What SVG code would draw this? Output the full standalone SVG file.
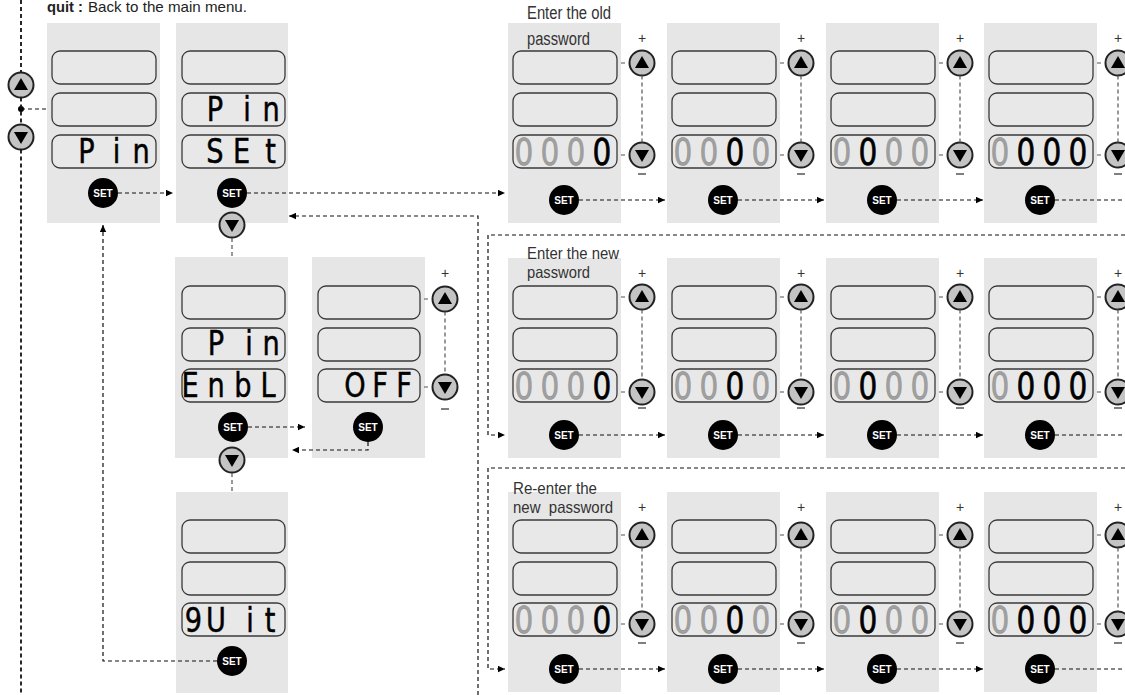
<svg xmlns="http://www.w3.org/2000/svg" width="1125" height="695" viewBox="0 0 1125 695">
<style>
.panel{fill:#e6e6e6}
.disp{fill:#e8e8e8;stroke:#3a3a3a;stroke-width:1.3}
.btn{fill:#c4c4c4;stroke:#222;stroke-width:2}
.tri{fill:#000}
.set{fill:#000}
.setlbl{fill:#fff;font-family:"Liberation Sans",Arial,sans-serif;font-weight:bold;font-size:10px;text-anchor:middle}
.seg{font-family:"DejaVu Sans","Liberation Sans",sans-serif;text-anchor:middle}
.dig{font-size:37px}
.let{font-size:34px;fill:#000;stroke:#000;stroke-width:0.5}
.g{fill:#a0a0a0;stroke:#8a8a8a;stroke-width:0.5}
.k{fill:#000;stroke:#000;stroke-width:0.7}
.lbl{font-family:"Liberation Sans",Arial,sans-serif;font-size:16.5px;fill:#333;white-space:pre}
.big{font-size:18px}
.note{font-family:"Liberation Sans",Arial,sans-serif;font-size:15px;fill:#222}
.plus{font-family:"Liberation Sans",Arial,sans-serif;font-size:14px;fill:#333;text-anchor:middle}
.minus{stroke:#555;stroke-width:1.5}
.conn{fill:none;stroke:#111;stroke-width:1.2;stroke-dasharray:4 3}
.main{fill:none;stroke:#111;stroke-width:1.8;stroke-dasharray:4 3}
.vconn{fill:none;stroke:#555;stroke-width:1.2;stroke-dasharray:4 3}
.tick{fill:none;stroke:#555;stroke-width:1.2}
</style>
<defs>
<marker id="ah" viewBox="0 0 7 7" refX="7" refY="3.5" markerWidth="7" markerHeight="7" markerUnits="userSpaceOnUse" orient="auto">
<path d="M0,0.3 L7,3.5 L0,6.7 z" fill="#000"/>
</marker>
</defs>

<g id="caption">
<text class="note" x="47" y="12" font-weight="bold" textLength="36" lengthAdjust="spacingAndGlyphs">quit :</text>
<text class="note" x="88" y="12" textLength="159" lengthAdjust="spacingAndGlyphs">Back to the main menu.</text>
</g>

<g id="nav-buttons">
<circle class="btn" cx="21" cy="85" r="12.5"/><path class="tri" d="M21,78 l7,12 h-14 z"/>
<circle class="btn" cx="21" cy="137" r="12.5"/><path class="tri" d="M21,144 l7,-12 h-14 z"/>
<circle cx="21" cy="109" r="3" fill="#000"/>
</g>

<g id="menu-pin">
<rect class="panel" x="47" y="23" width="113" height="200"/>
<rect class="disp" x="52" y="51" width="104" height="33" rx="8"/>
<rect class="disp" x="52" y="93" width="104" height="33" rx="8"/>
<rect class="disp" x="52" y="135" width="104" height="33" rx="8"/>
<text class="seg let" transform="scale(0.8 1)" x="108.1 145.6 176.25" y="163">Pin</text>
<circle class="set" cx="103" cy="193" r="15"/><text class="setlbl" x="103" y="196.5">SET</text>
</g>

<g id="pin-set">
<rect class="panel" x="176" y="23" width="112" height="200"/>
<rect class="disp" x="182" y="51" width="103" height="33" rx="8"/>
<rect class="disp" x="182" y="93" width="103" height="33" rx="8"/>
<rect class="disp" x="182" y="135" width="103" height="33" rx="8"/>
<text class="seg let" transform="scale(0.8 1)" x="268.75 308.75 338.75" y="121">Pin</text>
<text class="seg let" transform="scale(0.8 1)" x="268.75 301.9 338.1" y="163">SEt</text>
<circle class="set" cx="232" cy="193" r="15"/><text class="setlbl" x="232" y="196.5">SET</text>
<circle class="btn" cx="232" cy="225" r="12.5"/><path class="tri" d="M232,232 l7,-12 h-14 z"/>
</g>

<g id="pin-enbl">
<rect class="panel" x="175" y="257" width="113" height="201"/>
<rect class="disp" x="182" y="286" width="103" height="33" rx="8"/>
<rect class="disp" x="182" y="328" width="103" height="33" rx="8"/>
<rect class="disp" x="182" y="369" width="103" height="33" rx="8"/>
<text class="seg let" transform="scale(0.8 1)" x="270 311.25 338.75" y="355">Pin</text>
<text class="seg let" transform="scale(0.8 1)" x="237.5 270 303.75 335" y="397">EnbL</text>
<circle class="set" cx="233" cy="427" r="15"/><text class="setlbl" x="233" y="430.5">SET</text>
<circle class="btn" cx="232" cy="460" r="12.5"/><path class="tri" d="M232,467 l7,-12 h-14 z"/>
</g>

<g id="pin-off">
<rect class="panel" x="312" y="257" width="113" height="201"/>
<rect class="disp" x="318" y="286" width="102" height="33" rx="8"/>
<rect class="disp" x="318" y="328" width="102" height="33" rx="8"/>
<rect class="disp" x="318" y="369" width="102" height="33" rx="8"/>
<text class="seg let" transform="scale(0.8 1)" x="443.75 475 505" y="397">OFF</text>
<circle class="set" cx="368" cy="427" r="15"/><text class="setlbl" x="368" y="430.5">SET</text>
<text class="plus" x="445" y="278">+</text>
<circle class="btn" cx="445" cy="299" r="12.5"/><path class="tri" d="M445,292 l7,12 h-14 z"/>
<circle class="btn" cx="445" cy="387" r="12.5"/><path class="tri" d="M445,394 l7,-12 h-14 z"/>
<line class="minus" x1="441" y1="409" x2="449" y2="409"/>
</g>

<g id="pin-quit">
<rect class="panel" x="176" y="492" width="112" height="201"/>
<rect class="disp" x="182" y="520" width="103" height="33" rx="8"/>
<rect class="disp" x="182" y="562" width="103" height="33" rx="8"/>
<rect class="disp" x="182" y="603" width="103" height="33" rx="8"/>
<text class="seg let" transform="scale(0.8 1)" x="241.9 270 312.5 337.5" y="632">9Uit</text>
<circle class="set" cx="232" cy="661" r="15"/><text class="setlbl" x="232" y="664.5">SET</text>
</g>

<g id="old-1">
<rect class="panel" x="508" y="23" width="113" height="200"/>
<rect class="disp" x="513" y="51" width="104" height="33" rx="8"/>
<rect class="disp" x="513" y="93" width="104" height="33" rx="8"/>
<rect class="disp" x="513" y="135" width="104" height="33" rx="8"/>
<text class="seg dig" transform="scale(0.8 1)" x="655 687.5 720 752.5" y="165"><tspan class="g">000</tspan><tspan class="k">0</tspan></text>
<circle class="set" cx="564" cy="200" r="15"/><text class="setlbl" x="564" y="203.5">SET</text>
<text class="plus" x="642" y="43">+</text>
<circle class="btn" cx="642" cy="63" r="12.5"/><path class="tri" d="M642,56 l7,12 h-14 z"/>
<circle class="btn" cx="642" cy="155" r="12.5"/><path class="tri" d="M642,162 l7,-12 h-14 z"/>
<line class="minus" x1="638" y1="174" x2="646" y2="174"/>
<text class="lbl big" x="527" y="19" textLength="84" lengthAdjust="spacingAndGlyphs">Enter the old</text>
<text class="lbl big" x="527" y="45" textLength="63" lengthAdjust="spacingAndGlyphs">password</text>
</g>

<g id="old-2">
<rect class="panel" x="667" y="23" width="113" height="200"/>
<rect class="disp" x="672" y="51" width="104" height="33" rx="8"/>
<rect class="disp" x="672" y="93" width="104" height="33" rx="8"/>
<rect class="disp" x="672" y="135" width="104" height="33" rx="8"/>
<text class="seg dig" transform="scale(0.8 1)" x="853.75 886.25 918.75 951.25" y="165"><tspan class="g">00</tspan><tspan class="k">0</tspan><tspan class="g">0</tspan></text>
<circle class="set" cx="723" cy="200" r="15"/><text class="setlbl" x="723" y="203.5">SET</text>
<text class="plus" x="801" y="43">+</text>
<circle class="btn" cx="801" cy="63" r="12.5"/><path class="tri" d="M801,56 l7,12 h-14 z"/>
<circle class="btn" cx="801" cy="155" r="12.5"/><path class="tri" d="M801,162 l7,-12 h-14 z"/>
<line class="minus" x1="797" y1="174" x2="805" y2="174"/>
</g>

<g id="old-3">
<rect class="panel" x="826" y="23" width="113" height="200"/>
<rect class="disp" x="831" y="51" width="104" height="33" rx="8"/>
<rect class="disp" x="831" y="93" width="104" height="33" rx="8"/>
<rect class="disp" x="831" y="135" width="104" height="33" rx="8"/>
<text class="seg dig" transform="scale(0.8 1)" x="1052.5 1085 1117.5 1150" y="165"><tspan class="g">0</tspan><tspan class="k">0</tspan><tspan class="g">00</tspan></text>
<circle class="set" cx="882" cy="200" r="15"/><text class="setlbl" x="882" y="203.5">SET</text>
<text class="plus" x="960" y="43">+</text>
<circle class="btn" cx="960" cy="63" r="12.5"/><path class="tri" d="M960,56 l7,12 h-14 z"/>
<circle class="btn" cx="960" cy="155" r="12.5"/><path class="tri" d="M960,162 l7,-12 h-14 z"/>
<line class="minus" x1="956" y1="174" x2="964" y2="174"/>
</g>

<g id="old-4">
<rect class="panel" x="984" y="23" width="113" height="200"/>
<rect class="disp" x="989" y="51" width="104" height="33" rx="8"/>
<rect class="disp" x="989" y="93" width="104" height="33" rx="8"/>
<rect class="disp" x="989" y="135" width="104" height="33" rx="8"/>
<text class="seg dig" transform="scale(0.8 1)" x="1250 1282.5 1315 1347.5" y="165"><tspan class="g">0</tspan><tspan class="k">000</tspan></text>
<circle class="set" cx="1040" cy="200" r="15"/><text class="setlbl" x="1040" y="203.5">SET</text>
<text class="plus" x="1118" y="43">+</text>
<circle class="btn" cx="1118" cy="63" r="12.5"/><path class="tri" d="M1118,56 l7,12 h-14 z"/>
<circle class="btn" cx="1118" cy="155" r="12.5"/><path class="tri" d="M1118,162 l7,-12 h-14 z"/>
<line class="minus" x1="1114" y1="174" x2="1122" y2="174"/>
</g>

<g id="new-1">
<rect class="panel" x="508" y="258" width="113" height="200"/>
<rect class="disp" x="513" y="286" width="104" height="33" rx="8"/>
<rect class="disp" x="513" y="328" width="104" height="33" rx="8"/>
<rect class="disp" x="513" y="369" width="104" height="33" rx="8"/>
<text class="seg dig" transform="scale(0.8 1)" x="655 687.5 720 752.5" y="399"><tspan class="g">000</tspan><tspan class="k">0</tspan></text>
<circle class="set" cx="564" cy="435" r="15"/><text class="setlbl" x="564" y="438.5">SET</text>
<text class="plus" x="642" y="278">+</text>
<circle class="btn" cx="642" cy="297" r="12.5"/><path class="tri" d="M642,290 l7,12 h-14 z"/>
<circle class="btn" cx="642" cy="392" r="12.5"/><path class="tri" d="M642,399 l7,-12 h-14 z"/>
<line class="minus" x1="638" y1="408" x2="646" y2="408"/>
<text class="lbl" x="527" y="259" textLength="92" lengthAdjust="spacingAndGlyphs">Enter the new</text>
<text class="lbl" x="527" y="278" textLength="63" lengthAdjust="spacingAndGlyphs">password</text>
</g>

<g id="new-2">
<rect class="panel" x="667" y="258" width="113" height="200"/>
<rect class="disp" x="672" y="286" width="104" height="33" rx="8"/>
<rect class="disp" x="672" y="328" width="104" height="33" rx="8"/>
<rect class="disp" x="672" y="369" width="104" height="33" rx="8"/>
<text class="seg dig" transform="scale(0.8 1)" x="853.75 886.25 918.75 951.25" y="399"><tspan class="g">00</tspan><tspan class="k">0</tspan><tspan class="g">0</tspan></text>
<circle class="set" cx="723" cy="435" r="15"/><text class="setlbl" x="723" y="438.5">SET</text>
<text class="plus" x="801" y="278">+</text>
<circle class="btn" cx="801" cy="297" r="12.5"/><path class="tri" d="M801,290 l7,12 h-14 z"/>
<circle class="btn" cx="801" cy="392" r="12.5"/><path class="tri" d="M801,399 l7,-12 h-14 z"/>
<line class="minus" x1="797" y1="408" x2="805" y2="408"/>
</g>

<g id="new-3">
<rect class="panel" x="826" y="258" width="113" height="200"/>
<rect class="disp" x="831" y="286" width="104" height="33" rx="8"/>
<rect class="disp" x="831" y="328" width="104" height="33" rx="8"/>
<rect class="disp" x="831" y="369" width="104" height="33" rx="8"/>
<text class="seg dig" transform="scale(0.8 1)" x="1052.5 1085 1117.5 1150" y="399"><tspan class="g">0</tspan><tspan class="k">0</tspan><tspan class="g">00</tspan></text>
<circle class="set" cx="882" cy="435" r="15"/><text class="setlbl" x="882" y="438.5">SET</text>
<text class="plus" x="960" y="278">+</text>
<circle class="btn" cx="960" cy="297" r="12.5"/><path class="tri" d="M960,290 l7,12 h-14 z"/>
<circle class="btn" cx="960" cy="392" r="12.5"/><path class="tri" d="M960,399 l7,-12 h-14 z"/>
<line class="minus" x1="956" y1="408" x2="964" y2="408"/>
</g>

<g id="new-4">
<rect class="panel" x="984" y="258" width="113" height="200"/>
<rect class="disp" x="989" y="286" width="104" height="33" rx="8"/>
<rect class="disp" x="989" y="328" width="104" height="33" rx="8"/>
<rect class="disp" x="989" y="369" width="104" height="33" rx="8"/>
<text class="seg dig" transform="scale(0.8 1)" x="1250 1282.5 1315 1347.5" y="399"><tspan class="g">0</tspan><tspan class="k">000</tspan></text>
<circle class="set" cx="1040" cy="435" r="15"/><text class="setlbl" x="1040" y="438.5">SET</text>
<text class="plus" x="1118" y="278">+</text>
<circle class="btn" cx="1118" cy="297" r="12.5"/><path class="tri" d="M1118,290 l7,12 h-14 z"/>
<circle class="btn" cx="1118" cy="392" r="12.5"/><path class="tri" d="M1118,399 l7,-12 h-14 z"/>
<line class="minus" x1="1114" y1="408" x2="1122" y2="408"/>
</g>

<g id="renew-1">
<rect class="panel" x="508" y="492" width="113" height="200"/>
<rect class="disp" x="513" y="520" width="104" height="33" rx="8"/>
<rect class="disp" x="513" y="562" width="104" height="33" rx="8"/>
<rect class="disp" x="513" y="603" width="104" height="33" rx="8"/>
<text class="seg dig" transform="scale(0.8 1)" x="655 687.5 720 752.5" y="633"><tspan class="g">000</tspan><tspan class="k">0</tspan></text>
<circle class="set" cx="564" cy="669" r="15"/><text class="setlbl" x="564" y="672.5">SET</text>
<text class="plus" x="642" y="512">+</text>
<circle class="btn" cx="642" cy="535" r="12.5"/><path class="tri" d="M642,528 l7,12 h-14 z"/>
<circle class="btn" cx="642" cy="624" r="12.5"/><path class="tri" d="M642,631 l7,-12 h-14 z"/>
<line class="minus" x1="638" y1="643" x2="646" y2="643"/>
<text class="lbl" x="513" y="494" textLength="84" lengthAdjust="spacingAndGlyphs">Re-enter the</text>
<text class="lbl" x="513" y="513" textLength="100" lengthAdjust="spacingAndGlyphs">new  password</text>
</g>

<g id="renew-2">
<rect class="panel" x="667" y="492" width="113" height="200"/>
<rect class="disp" x="672" y="520" width="104" height="33" rx="8"/>
<rect class="disp" x="672" y="562" width="104" height="33" rx="8"/>
<rect class="disp" x="672" y="603" width="104" height="33" rx="8"/>
<text class="seg dig" transform="scale(0.8 1)" x="853.75 886.25 918.75 951.25" y="633"><tspan class="g">00</tspan><tspan class="k">0</tspan><tspan class="g">0</tspan></text>
<circle class="set" cx="723" cy="669" r="15"/><text class="setlbl" x="723" y="672.5">SET</text>
<text class="plus" x="801" y="512">+</text>
<circle class="btn" cx="801" cy="535" r="12.5"/><path class="tri" d="M801,528 l7,12 h-14 z"/>
<circle class="btn" cx="801" cy="624" r="12.5"/><path class="tri" d="M801,631 l7,-12 h-14 z"/>
<line class="minus" x1="797" y1="643" x2="805" y2="643"/>
</g>

<g id="renew-3">
<rect class="panel" x="826" y="492" width="113" height="200"/>
<rect class="disp" x="831" y="520" width="104" height="33" rx="8"/>
<rect class="disp" x="831" y="562" width="104" height="33" rx="8"/>
<rect class="disp" x="831" y="603" width="104" height="33" rx="8"/>
<text class="seg dig" transform="scale(0.8 1)" x="1052.5 1085 1117.5 1150" y="633"><tspan class="g">0</tspan><tspan class="k">0</tspan><tspan class="g">00</tspan></text>
<circle class="set" cx="882" cy="669" r="15"/><text class="setlbl" x="882" y="672.5">SET</text>
<text class="plus" x="960" y="512">+</text>
<circle class="btn" cx="960" cy="535" r="12.5"/><path class="tri" d="M960,528 l7,12 h-14 z"/>
<circle class="btn" cx="960" cy="624" r="12.5"/><path class="tri" d="M960,631 l7,-12 h-14 z"/>
<line class="minus" x1="956" y1="643" x2="964" y2="643"/>
</g>

<g id="renew-4">
<rect class="panel" x="984" y="492" width="113" height="200"/>
<rect class="disp" x="989" y="520" width="104" height="33" rx="8"/>
<rect class="disp" x="989" y="562" width="104" height="33" rx="8"/>
<rect class="disp" x="989" y="603" width="104" height="33" rx="8"/>
<text class="seg dig" transform="scale(0.8 1)" x="1250 1282.5 1315 1347.5" y="633"><tspan class="g">0</tspan><tspan class="k">000</tspan></text>
<circle class="set" cx="1040" cy="669" r="15"/><text class="setlbl" x="1040" y="672.5">SET</text>
<text class="plus" x="1118" y="512">+</text>
<circle class="btn" cx="1118" cy="535" r="12.5"/><path class="tri" d="M1118,528 l7,12 h-14 z"/>
<circle class="btn" cx="1118" cy="624" r="12.5"/><path class="tri" d="M1118,631 l7,-12 h-14 z"/>
<line class="minus" x1="1114" y1="643" x2="1122" y2="643"/>
</g>

<g id="connectors">
<path class="main" d="M21,0 V72.5 M21,97.5 V124.5 M21,149.5 V695"/>
<path class="conn" d="M21,109 H47"/>
<path class="conn" d="M118,193 H173" marker-end="url(#ah)"/>
<path class="conn" d="M247,193 H505" marker-end="url(#ah)"/>
<path class="conn" d="M478,695 V216 H289" marker-end="url(#ah)"/>
<path class="vconn" d="M232,238 V257"/>
<path class="conn" d="M248,427 H305" marker-end="url(#ah)"/>
<path class="conn" d="M368,442 V450 H292" marker-end="url(#ah)"/>
<path class="vconn" d="M232,473 V492"/>
<path class="conn" d="M217,661 H103 V225" marker-end="url(#ah)"/>
<path class="conn" d="M579,200 H665" marker-end="url(#ah)"/>
<path class="conn" d="M738,200 H824" marker-end="url(#ah)"/>
<path class="conn" d="M897,200 H983" marker-end="url(#ah)"/>
<path class="conn" d="M1055,200 H1125"/>
<path class="conn" d="M1125,235 H488 V435 H505" marker-end="url(#ah)"/>
<path class="conn" d="M579,435 H665" marker-end="url(#ah)"/>
<path class="conn" d="M738,435 H824" marker-end="url(#ah)"/>
<path class="conn" d="M897,435 H983" marker-end="url(#ah)"/>
<path class="conn" d="M1055,435 H1125"/>
<path class="conn" d="M1125,468 H488 V669 H505" marker-end="url(#ah)"/>
<path class="conn" d="M579,669 H665" marker-end="url(#ah)"/>
<path class="conn" d="M738,669 H824" marker-end="url(#ah)"/>
<path class="conn" d="M897,669 H983" marker-end="url(#ah)"/>
<path class="conn" d="M1055,669 H1125"/>
<path class="tick" d="M424,299 H428 M424,387 H428 M621,63 H625 M621,155 H625 M780,63 H784 M780,155 H784 M939,63 H943 M939,155 H943 M1097,63 H1101 M1097,155 H1101 M621,297 H625 M621,392 H625 M780,297 H784 M780,392 H784 M939,297 H943 M939,392 H943 M1097,297 H1101 M1097,392 H1101 M621,535 H625 M621,624 H625 M780,535 H784 M780,624 H784 M939,535 H943 M939,624 H943 M1097,535 H1101 M1097,624 H1101"/>
<path class="vconn" d="M445,311.5 V374.5 M642,75.5 V142.5 M801,75.5 V142.5 M960,75.5 V142.5 M1118,75.5 V142.5 M642,309.5 V379.5 M801,309.5 V379.5 M960,309.5 V379.5 M1118,309.5 V379.5 M642,547.5 V611.5 M801,547.5 V611.5 M960,547.5 V611.5 M1118,547.5 V611.5"/>
</g>
</svg>
